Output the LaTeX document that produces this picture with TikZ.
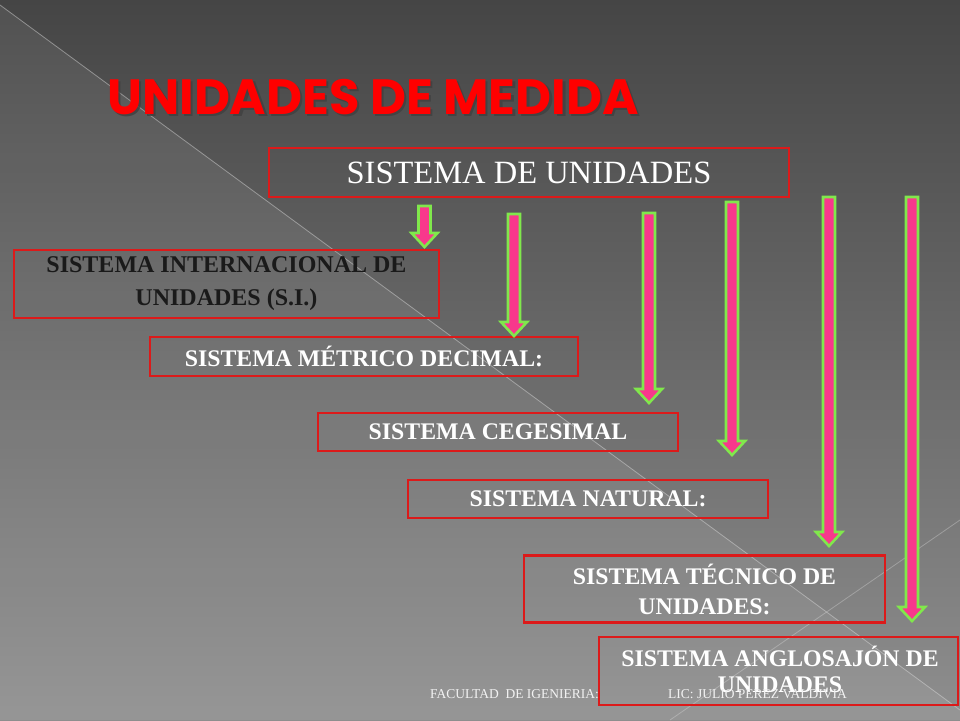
\documentclass[tikz,border=0pt]{standalone}
\usepackage{fontspec}
\setmainfont{Liberation Serif}
\newfontfamily\titlefont{Poppins}
\definecolor{bgtop}{HTML}{454545}
\definecolor{bgbot}{HTML}{8E8E8E}
\definecolor{boxred}{HTML}{DC1A1A}
\definecolor{arrpink}{HTML}{F8388C}
\definecolor{arrgreen}{HTML}{80E84C}
\definecolor{titlered}{HTML}{FF0000}
\definecolor{dtext}{HTML}{1A1A1A}
\definecolor{ftext}{HTML}{F2F2F2}
\newcommand\blockarrow[3]{%
  \draw[arrowsty] (#1-6,#2) -- (#1+6,#2) -- (#1+6,#3-14) -- (#1+13,#3-14)
    -- (#1,#3) -- (#1-13,#3-14) -- (#1-6,#3-14) -- cycle;}
\begin{document}
\begin{tikzpicture}[x=1pt,y=-1pt,
  sbox/.style={draw=boxred, line width=2.5pt, inner sep=0pt, align=center,
    text=white, font=\bfseries\fontsize{23.8}{32}\selectfont},
  arrowsty/.style={draw=arrgreen, fill=arrpink, line width=2.6pt},
  foot/.style={text=ftext, font=\fontsize{13.5}{15}\selectfont, inner sep=0pt}]
\useasboundingbox (0,0) rectangle (960,720);
% background
\fill[top color=bgtop, bottom color=bgbot] (0,0) rectangle (960,720);
\fill[white, opacity=0.07] (0,5) -- (960,710) -- (960,720) -- (0,720) -- cycle;
\draw[white!75!gray, line width=0.8pt, opacity=0.45] (0,5) -- (960,710);
\draw[white!75!gray, line width=0.8pt, opacity=0.35] (670,720) -- (960,520);
% title
\node[text=black!75, opacity=0.8, font=\titlefont\bfseries\fontsize{49.5}{56}\selectfont] (titleshadow) at (375.5,99) {UNIDADES DE MEDIDA};
\node[text=titlered, font=\titlefont\bfseries\fontsize{49.5}{56}\selectfont] (title) at (373,97) {UNIDADES DE MEDIDA};
% boxes
\node[sbox, minimum width=520pt, minimum height=49pt, font=\fontsize{32.5}{36}\selectfont] (s0) at (529,172.5) {SISTEMA DE UNIDADES};
\node[sbox, minimum width=425pt, minimum height=68pt, text=dtext, font=\bfseries\fontsize{24}{33}\selectfont] (s1) at (226.5,284) {SISTEMA INTERNACIONAL DE\\UNIDADES (S.I.)};
\node[sbox, minimum width=428pt, minimum height=39pt] (s2) at (364,356.5) {SISTEMA MÉTRICO DECIMAL:};
\node[sbox, minimum width=360pt, minimum height=38pt] (s3) at (498,432) {SISTEMA CEGESIMAL};
\node[sbox, minimum width=360pt, minimum height=38pt] (s4) at (588,499) {SISTEMA NATURAL:};
\node[sbox, minimum width=361pt, minimum height=67pt, font=\bfseries\fontsize{23.8}{30}\selectfont] (s5) at (704.5,589) {SISTEMA TÉCNICO DE\\UNIDADES:};
\node[sbox, minimum width=359pt, minimum height=68pt] (s6) at (778.5,671) {};
\node[text=white, font=\bfseries\fontsize{23.8}{26}\selectfont, align=center, inner sep=0pt] (s6text) at (780,669) {SISTEMA ANGLOSAJÓN DE\\UNIDADES};
% arrows
\blockarrow{424.5}{206}{247}
\blockarrow{514}{214}{336}
\blockarrow{649}{213}{403}
\blockarrow{732}{202}{455}
\blockarrow{829}{197}{546}
\blockarrow{912}{197}{621}
% footer
\node[foot, anchor=west] (f1) at (430,694) {FACULTAD\ \ DE IGENIERIA:};
\node[foot, anchor=west] (f2) at (668,694) {LIC: JULIO PEREZ VALDIVIA};
\end{tikzpicture}
\end{document}
